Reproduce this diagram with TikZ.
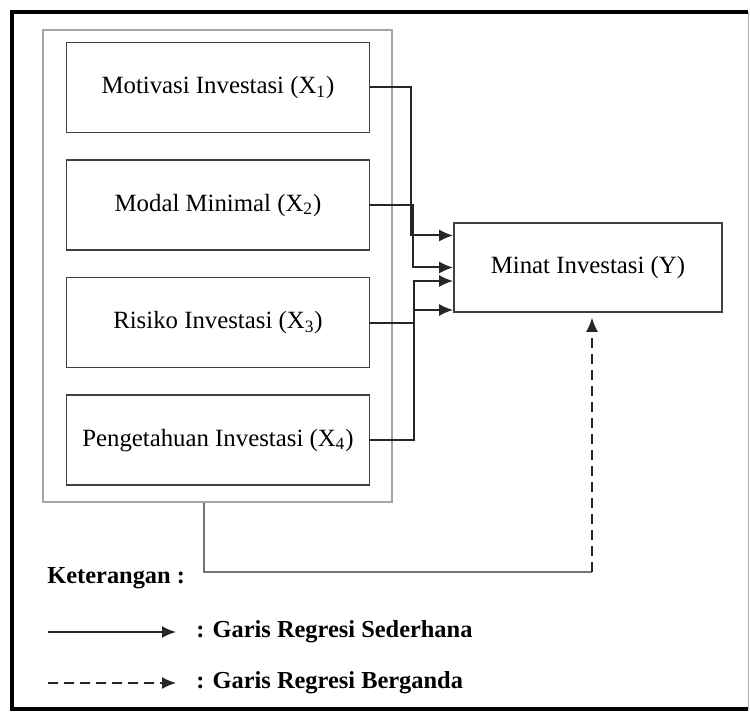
\documentclass[tikz,border=0pt]{standalone}
\usepackage{fontspec}
\setmainfont{Liberation Serif}
\tikzstyle{block}=[draw=black!75, line width=0.8pt, minimum width=151.5pt, minimum height=45pt, font=\fontsize{12.4}{15}\selectfont]
\tikzstyle{arrow}=[black!85, line width=1pt, -{Latex[length=7pt,width=6pt]}]
\tikzstyle{dasharrow}=[black!85, line width=0.8pt, dash pattern=on 5pt off 3pt, -{Latex[length=7pt,width=6pt]}]
\tikzstyle{legend}=[anchor=west, inner sep=0pt, font=\fontsize{12.2}{14}\selectfont\bfseries]
\usetikzlibrary{positioning,arrows.meta,calc}
\begin{document}
\begin{tikzpicture}[x=0.5pt,y=-0.5pt,node distance=13pt]
\useasboundingbox (0,0) rectangle (750,715);
\draw[line width=2pt] (748,12) -- (12,12) -- (12,709) -- (748,709);
\draw[black!30, line width=0.5pt] (748,12) -- (748,709);
\node (X1) [block] at (218,87.5) {Motivasi Investasi (X\textsubscript{1})};
\node (X2) [block, below=of X1] {Modal Minimal (X\textsubscript{2})};
\node (X3) [block, below=of X2] {Risiko Investasi (X\textsubscript{3})};
\node (X4) [block, below=of X3] {Pengetahuan Investasi (X\textsubscript{4})};
\node (grp) [draw=black!35, line width=0.6pt, minimum width=174.5pt, minimum height=236pt] at (217.5,266) {};
\node (Y) [block, minimum width=134pt, minimum height=44.5pt] at (588,267.5) {Minat Investasi (Y)};
\draw[arrow] (X1.east) -- ++(20.5pt,0) |- ([yshift=16pt]Y.west);
\draw[arrow] (X2.east) -- ++(21.25pt,0) |- (Y.west);
\draw[arrow] (X3.east) -- ++(22pt,0) |- ([yshift=-6.75pt]Y.west);
\draw[arrow] (X4.east) -- ++(22pt,0) |- ([yshift=-21.25pt]Y.west);
\coordinate (turn) at (204,572);
\coordinate (tip) at ([xshift=2pt,yshift=-2.5pt]Y.south);
\draw[black!55, line width=0.6pt] (turn |- grp.south) -- (turn) -- (turn -| tip);
\draw[dasharrow] (turn -| tip) -- (tip);
\node (ket) [legend] at (47,578) {Keterangan :};
\coordinate (s1) at (48,632);
\coordinate (s2) at (176,632);
\draw[arrow] (s1) -- (s2);
\node (sed) [legend] at (196,632) {: Garis Regresi Sederhana};
\coordinate (d1) at (48,683);
\coordinate (d2) at (176,683);
\draw[dasharrow] (d1) -- (d2);
\node (ber) [legend] at (196,683) {: Garis Regresi Berganda};
\end{tikzpicture}
\end{document}
